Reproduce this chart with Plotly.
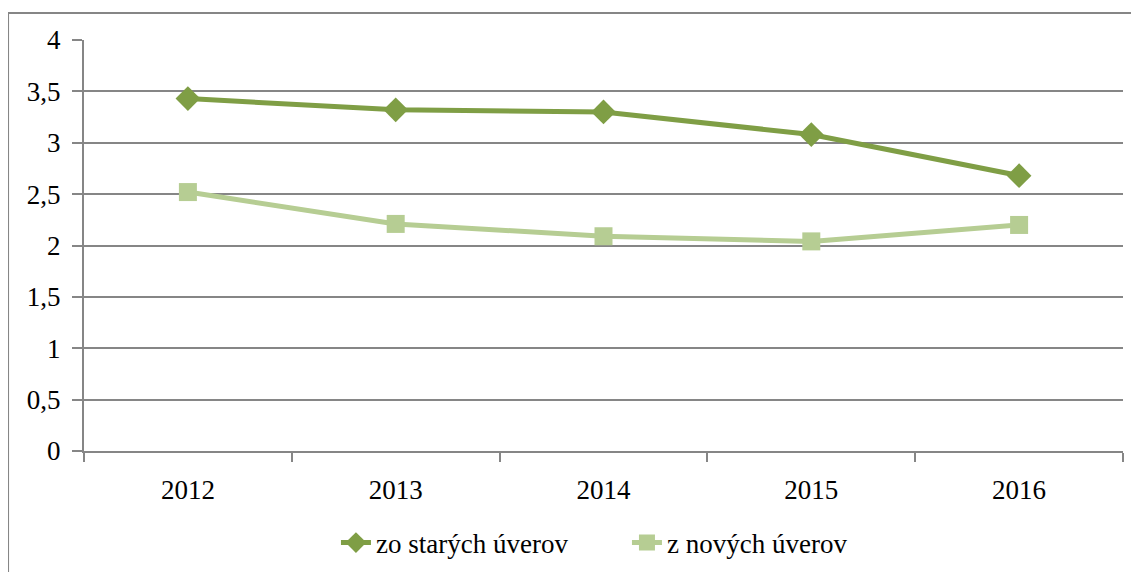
import plotly.graph_objects as go

years = ["2012", "2013", "2014", "2015", "2016"]
stare = [3.43, 3.32, 3.30, 3.08, 2.68]
nove = [2.52, 2.21, 2.09, 2.04, 2.20]
y_ticks = [0, 0.5, 1, 1.5, 2, 2.5, 3, 3.5, 4]

dark = "#7F9E45"
light = "#B6CD93"
grid = "#868686"
xpos = list(range(len(years)))

fig = go.Figure()
fig.add_trace(go.Scatter(x=xpos, y=stare, name="zo starých úverov", mode="lines+markers",
                         line=dict(color=dark, width=5),
                         marker=dict(symbol="diamond", size=19, color=dark)))
fig.add_trace(go.Scatter(x=xpos, y=nove, name="z nových úverov", mode="lines+markers",
                         line=dict(color=light, width=5),
                         marker=dict(symbol="square", size=18, color=light)))
# invisible trace on secondary axis to show category-boundary ticks
fig.add_trace(go.Scatter(x=[-0.5, 4.5], y=[0, 0], xaxis="x2", mode="none",
                         showlegend=False, hoverinfo="skip"))

fam = "Liberation Serif, Times New Roman, serif"
font = dict(family=fam, size=27, color="black")

fig.update_layout(
    width=1131, height=564,
    margin=dict(l=76, r=16, t=32, b=121, autoexpand=False),
    paper_bgcolor="white", plot_bgcolor="white",
    separators=", ",
    font=font,
    xaxis=dict(range=[-0.5, 4.5], tickmode="array", tickvals=xpos, ticktext=years,
               showgrid=False, zeroline=False, showline=False, ticks="",
               ticklabelstandoff=20, tickfont=font),
    xaxis2=dict(range=[-0.5, 4.5], overlaying="x", side="bottom", anchor="y",
                tickmode="array", tickvals=[-0.5, 0.5, 1.5, 2.5, 3.5, 4.5],
                showticklabels=False, ticks="outside", ticklen=9, tickwidth=1.5,
                tickcolor=grid, showline=True, linecolor=grid, linewidth=2,
                showgrid=False, zeroline=False),
    yaxis=dict(range=[0, 4], tickmode="array", tickvals=y_ticks,
               showgrid=True, gridcolor=grid, gridwidth=1.5, zeroline=False,
               showline=True, linecolor=grid, linewidth=2,
               ticks="outside", ticklen=10, tickwidth=1.5, tickcolor=grid,
               tickfont=font, ticklabelstandoff=6),
    legend=dict(orientation="h", x=0.2425, xanchor="left", y=-0.224, yanchor="middle",
                font=dict(family=fam, size=27, color="black"),
                entrywidth=246, tracegroupgap=0),
    shapes=[dict(type="rect", xref="paper", yref="paper",
                 x0=-0.0731, x1=1.2, y0=-0.6, y1=1.0657,
                 line=dict(color=grid, width=2), fillcolor="rgba(0,0,0,0)", layer="below")],
)

fig.write_html("out.html")
